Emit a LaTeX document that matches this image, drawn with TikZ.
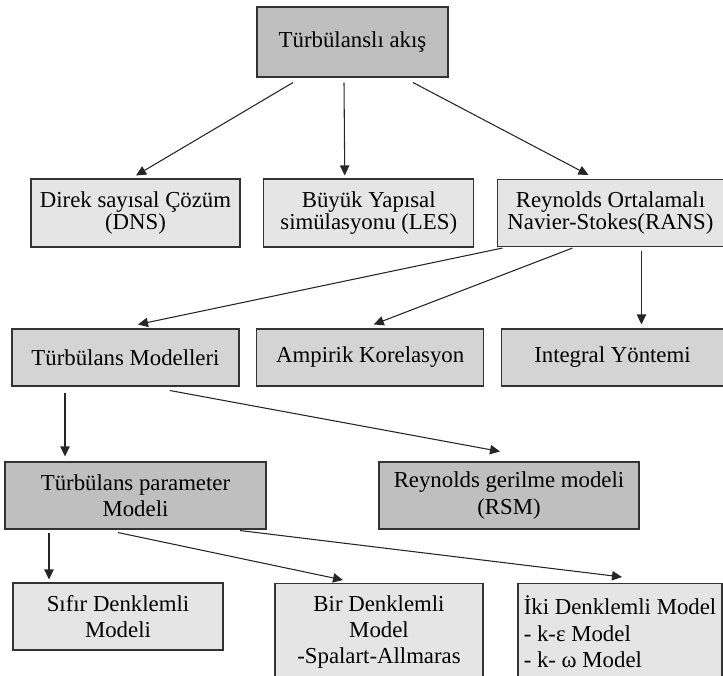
\documentclass[tikz,border=0pt]{standalone}
\usepackage{fontspec}
\setmainfont{Liberation Serif}
\usepackage{tikz}
\usetikzlibrary{positioning,arrows.meta}
\definecolor{darkbox}{gray}{0.75}
\definecolor{midbox}{gray}{0.83}
\definecolor{lightbox}{gray}{0.9}
\tikzset{box/.style={rectangle,draw=black!80,line width=0.8pt,inner sep=2pt,align=center,font=\fontsize{17.1}{19.8}\selectfont},
dark node/.style={box,fill=darkbox},
mid node/.style={box,fill=midbox},
light node/.style={box,fill=lightbox},
tight/.style={font=\fontsize{17.1}{16.8}\selectfont},
>={Triangle[length=7.5pt,width=7pt]},}

\begin{document}
\begin{tikzpicture}[x=0.75pt,y=-0.75pt]
    \useasboundingbox (0,0) rectangle (723,675);

    \node[dark node,minimum width=143.25pt,minimum height=52.5pt] (top) at (352.5,42) {Türbülanslı akış};

    \node[light node,tight,minimum width=156.75pt,minimum height=51pt] (dns) at (135.5,213) {Direk sayısal Çözüm\\(DNS)};
    \node[light node,tight,minimum width=157.5pt,minimum height=51pt] (les) [right = 17pt of dns] {Büyük Yapısal\\simülasyonu (LES)};
    \node[light node,tight,minimum width=169.5pt,minimum height=50.25pt] (rans) [right = 17pt of les] {Reynolds Ortalamalı\\Navier-Stokes(RANS)};

    \node[mid node,minimum width=170.25pt,minimum height=42.75pt] (tm) at (125.5,357.5) {Türbülans Modelleri};
    \node[mid node,minimum width=170.25pt,minimum height=42.75pt] (amp) [right = 12.5pt of tm] {Ampirik Korelasyon};
    \node[mid node,minimum width=166.5pt,minimum height=42.75pt] (int) [right = 12.5pt of amp] {Integral Yöntemi};

    \node[dark node,minimum width=195.75pt,minimum height=50.25pt] (param) at (135.5,495.5) {Türbülans parameter\\Modeli};
    \node[dark node,minimum width=195pt,minimum height=50.25pt] (rsm) at (509,495.5) {Reynolds gerilme modeli\\(RSM)};

    \node[light node,minimum width=157.5pt,minimum height=50.25pt] (sifir) at (118,616.5) {Sıfır Denklemli\\Modeli};
    \node[light node,minimum width=156pt,minimum height=72.75pt,anchor=north] (bir) at (379,583) {Bir Denklemli\\Model\\-Spalart-Allmaras};
    \node[light node,align=left,minimum width=153pt,minimum height=72.75pt,anchor=north] (iki) at (620,583) {İki Denklemli Model\\- k-ε Model\\- k- ω Model};

    \path[->,thick,black!85]
    ([shift={(-59.5,5)}]top.south) edge node {} ([shift={(0.5,-3)}]dns.north)
    ([shift={(-8.5,5)}]top.south) edge node {} ([shift={(-24,-3)}]les.north)
    ([shift={(60.5,5)}]top.south) edge node {} ([shift={(-22,-4)}]rans.north)
    ([shift={(-108,1)}]rans.south) edge node {} ([shift={(12.5,-4)}]tm.north)
    ([shift={(-38,1)}]rans.south) edge node {} ([shift={(3.5,-4)}]amp.north)
    ([shift={(31,4)}]rans.south) edge node {} ([shift={(29,-4)}]int.north)
    ([shift={(-60.5,6)}]tm.south) edge node {} ([shift={(-70.5,-5)}]param.north)
    ([shift={(44.5,4)}]tm.south) edge node {} ([shift={(-9,-10)}]rsm.north)
    ([shift={(-86.5,3)}]param.south) edge node {} ([shift={(-69,-3)}]sifir.north)
    ([shift={(-17.5,3)}]param.south) edge node {} ([shift={(-36,-3)}]bir.north)
    ([shift={(104.5,1)}]param.south) edge node {} ([shift={(2,-6)}]iki.north)
    ;
\end{tikzpicture}
\end{document}
